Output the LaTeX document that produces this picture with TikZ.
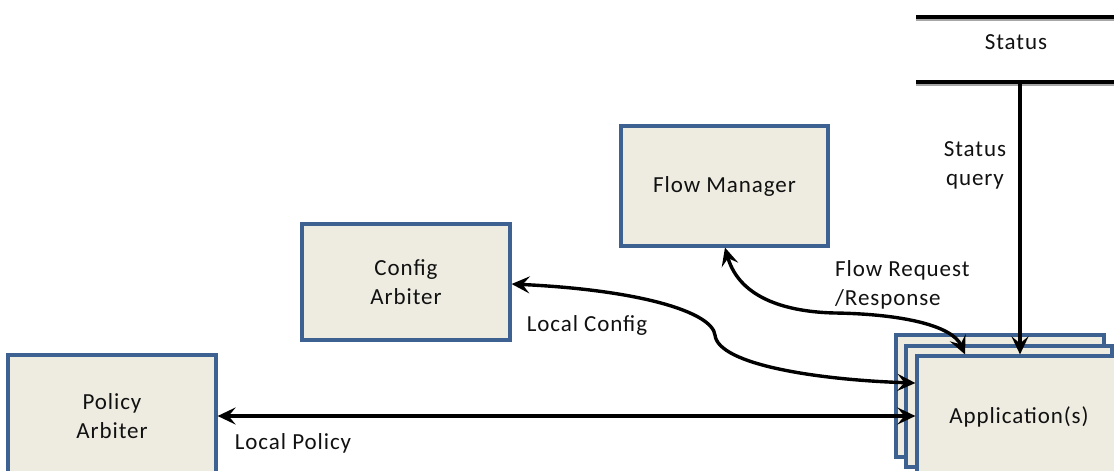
\documentclass[tikz,border=0pt]{standalone}
\usepackage{fontspec}
\setmainfont{Carlito}[LetterSpace=4]
\usetikzlibrary{arrows.meta}
\definecolor{boxfill}{HTML}{EEECE1}
\definecolor{boxblue}{HTML}{3D6190}
\definecolor{txt}{HTML}{111111}
\newcommand{\lblfont}{\fontsize{23}{29}\selectfont}
\tikzset{
  box/.style={draw=boxblue, line width=3.2pt, fill=boxfill, minimum width=207pt,
    minimum height=120pt, inner sep=0pt, align=center, font=\lblfont, text=txt},
  conn/.style={line width=3.4pt, black, {Stealth[length=18pt,width=17pt,inset=7pt]}-{Stealth[length=18pt,width=17pt,inset=7pt]}},
  oneway/.style={line width=3.4pt, black, -{Stealth[length=18pt,width=17pt,inset=7pt]}},
  lbl/.style={font=\lblfont, text=txt, inner sep=0pt, align=center},
  bar/.style={line width=4pt, black},
  barshade/.style={line width=2pt, gray!70}
}
\begin{document}
\begin{tikzpicture}[x=1pt,y=-1pt]
\useasboundingbox (0,0) rectangle (1114,471);
\clip (0,0) rectangle (1114,471);
% Status data store
\coordinate (s1a) at (916,16.5);
\coordinate (s1b) at (1120,16.5);
\coordinate (s1c) at (916,19.5);
\coordinate (s1d) at (1120,19.5);
\coordinate (s2a) at (916,81.5);
\coordinate (s2b) at (1120,81.5);
\coordinate (s2c) at (916,84.5);
\coordinate (s2d) at (1120,84.5);
\draw[barshade] (s1c) -- (s1d);
\draw[bar] (s1a) -- (s1b);
\draw[barshade] (s2c) -- (s2d);
\draw[bar] (s2a) -- (s2b);
\node[lbl] (status) at (1016,42) {Status};
\coordinate (stbot) at (1020,83);
% Boxes
\node[box, minimum height=120pt] (flow) at (724.5,186) {Flow Manager};
\node[box, minimum width=208pt, minimum height=116pt] (config) at (406,282) {Config\\Arbiter};
\node[box, minimum width=208pt, minimum height=122pt] (policy) at (112,416) {Policy\\Arbiter};
\node[box, minimum width=208pt, minimum height=122pt] (app3) at (1000,396) {};
\node[box, minimum width=206pt, minimum height=121pt] (app2) at (1009,406.5) {};
\node[box, minimum width=204pt, minimum height=122pt] (app) at (1019,417) {Application(s)};
% Connectors
\coordinate (polR) at (policy.east |- 0,416);
\coordinate (appP) at (app.west |- 0,416);
\draw[conn] (polR) -- (appP);
\node[lbl] (lpol) at (293,443) {Local Policy};
\coordinate (cfgR) at (config.east |- 0,284);
\coordinate (appC) at (app.west |- 0,383);
\draw[conn] (cfgR) .. controls (640,290) and (712,312) .. (715,335)
  .. controls (718,365) and (820,380) .. (appC);
\node[lbl] (lcfg) at (587,325) {Local Config};
\coordinate (flowB) at (flow.south -| 725,0);
\coordinate (appF) at (app.north -| 965,0);
\draw[conn] (flowB) .. controls (740,300) and (790,312) .. (835,313)
  .. controls (900,314) and (952,325) .. (appF);
\node[lbl, anchor=north west, align=left] (lflow) at (835,260) {Flow Request\\/Response};
\coordinate (appS) at (app.north -| 1020,0);
\draw[oneway] (stbot) -- (appS);
\node[lbl] (lsq) at (975,165) {Status\\query};
\end{tikzpicture}
\end{document}
